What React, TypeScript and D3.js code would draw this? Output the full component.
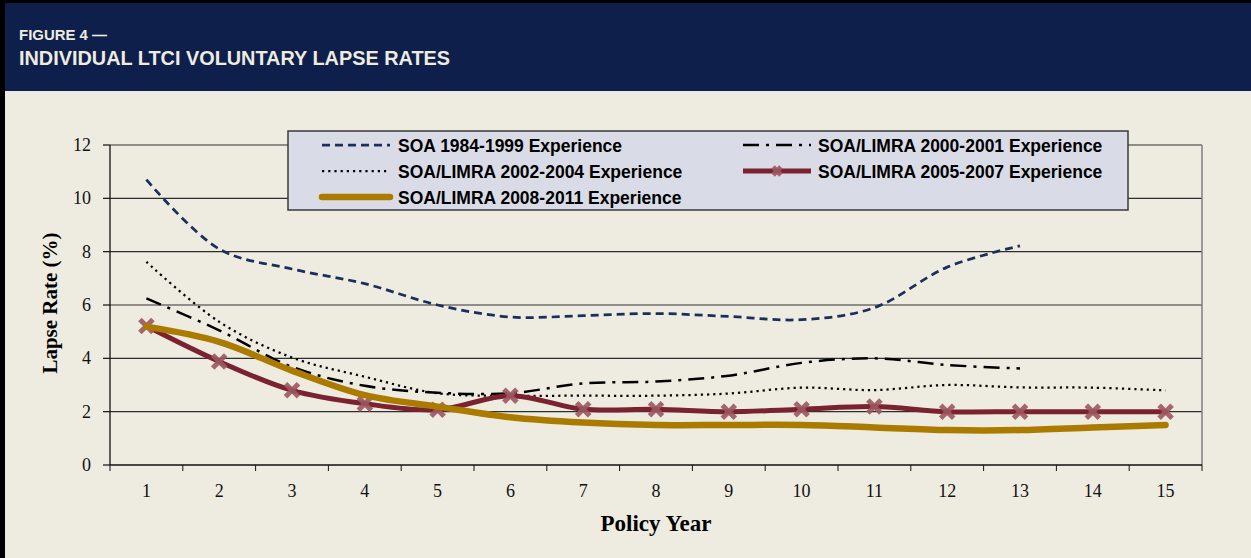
import React from 'react';
import * as d3 from 'd3';

const years = [1, 2, 3, 4, 5, 6, 7, 8, 9, 10, 11, 12, 13, 14, 15];
const yTicks = [0, 2, 4, 6, 8, 10, 12];

// one value per policy year; missing years are left out
const soa8499 = [10.7, 8.1, 7.35, 6.8, 6.0, 5.55, 5.6, 5.68, 5.57, 5.45, 5.9, 7.42, 8.22];
const limra0001 = [6.25, 5.05, 3.68, 2.97, 2.71, 2.69, 3.06, 3.13, 3.35, 3.83, 4.0, 3.75, 3.62];
const limra0204 = [7.62, 5.37, 4.03, 3.31, 2.69, 2.6, 2.6, 2.6, 2.68, 2.9, 2.81, 3.0, 2.91, 2.9, 2.8];
const limra0507 = [5.21, 3.88, 2.8, 2.3, 2.07, 2.6, 2.09, 2.09, 2.0, 2.09, 2.19, 2.0, 2.0, 2.0, 2.0];
const limra0811 = [5.19, 4.62, 3.54, 2.62, 2.19, 1.79, 1.59, 1.5, 1.5, 1.5, 1.41, 1.31, 1.31, 1.41, 1.5];

const seriesNames = [
  'SOA 1984-1999 Experience',
  'SOA/LIMRA 2000-2001 Experience',
  'SOA/LIMRA 2002-2004 Experience',
  'SOA/LIMRA 2005-2007 Experience',
  'SOA/LIMRA 2008-2011 Experience',
];

const W = 1251;
const H = 558;
const plot = { left: 110, right: 1202, top: 145, bottom: 465 };

const styles = [
  { color: '#1b2f5c', width: 2.75, dash: '8,5' },
  { color: '#000000', width: 2.5, dash: '16,7,3,7' },
  { color: '#000000', width: 2.25, dash: '2.2,4' },
  { color: '#7b2230', width: 5, dash: null },
  { color: '#ab7b00', width: 6.5, dash: null },
];

const allSeries = [soa8499, limra0001, limra0204, limra0507, limra0811];

const Cross = ({ x, y, s = 6.5 }: { x: number; y: number; s?: number }) => (
  <path
    d={`M${x - s},${y - s}L${x + s},${y + s}M${x - s},${y + s}L${x + s},${y - s}`}
    stroke="#9c5661"
    strokeOpacity={0.9}
    strokeWidth={5}
  />
);

export default function App() {
  const x = d3.scaleBand<number>().domain(years).range([plot.left, plot.right]).padding(0);
  const y = d3.scaleLinear().domain([0, 12]).range([plot.bottom, plot.top]);
  const cx = (d: number) => (x(d) as number) + x.bandwidth() / 2;

  const line = d3
    .line<number>()
    .x((_, i) => cx(years[i]))
    .y((v) => y(v))
    .curve(d3.curveCatmullRom.alpha(0.5));

  const legendItems = [
    { i: 0, lx: 322, ly: 145 },
    { i: 1, lx: 743, ly: 145 },
    { i: 2, lx: 322, ly: 171 },
    { i: 3, lx: 743, ly: 171 },
    { i: 4, lx: 322, ly: 197 },
  ];

  return (
    <div style={{ position: 'fixed', left: 0, top: 0 }}>
      <svg width={W} height={H} style={{ display: 'block' }}>
        <rect x={0} y={0} width={W} height={H} fill="#eeece1" />
        <rect x={0} y={0} width={W} height={91} fill="#0d1f4a" />
        <rect x={0} y={0} width={W} height={3} fill="#000" />
        <rect x={0} y={0} width={5} height={H} fill="#000" />
        <text
          x={19}
          y={39.5}
          fill="#eeece1"
          fontFamily="'Liberation Sans Narrow', 'Arial Narrow', 'Liberation Sans', sans-serif"
          fontWeight="bold"
          fontSize={15}
          textLength={88}
          lengthAdjust="spacingAndGlyphs"
        >
          FIGURE 4 —
        </text>
        <text
          x={19}
          y={65}
          fill="#eeece1"
          fontFamily="'Liberation Sans Narrow', 'Arial Narrow', 'Liberation Sans', sans-serif"
          fontWeight="bold"
          fontSize={21}
          textLength={431}
          lengthAdjust="spacingAndGlyphs"
        >
          INDIVIDUAL LTCI VOLUNTARY LAPSE RATES
        </text>

        {/* gridlines */}
        {yTicks.slice(1).map((t) => (
          <line key={t} x1={plot.left} x2={plot.right} y1={y(t)} y2={y(t)} stroke="#2e2e2e" strokeWidth={1.2} />
        ))}
        <line x1={plot.right} x2={plot.right} y1={plot.top} y2={plot.bottom} stroke="#7f7f7f" strokeWidth={1.5} />

        {/* axes */}
        <line x1={plot.left} x2={plot.left} y1={plot.top} y2={plot.bottom} stroke="#111" strokeWidth={1.3} />
        <line x1={plot.left} x2={plot.right} y1={plot.bottom} y2={plot.bottom} stroke="#111" strokeWidth={1.5} />
        {yTicks.map((t) => (
          <g key={t}>
            <line x1={plot.left - 7} x2={plot.left} y1={y(t)} y2={y(t)} stroke="#111" strokeWidth={1.2} />
            <text
              x={91}
              y={y(t) + 6}
              textAnchor="end"
              fontFamily="'Liberation Serif', 'Times New Roman', serif"
              fontSize={18}
              fill="#111"
            >
              {t}
            </text>
          </g>
        ))}
        {years.map((d) => (
          <g key={d}>
            <line x1={x(d)} x2={x(d)} y1={plot.bottom} y2={plot.bottom + 6} stroke="#111" strokeWidth={1} />
            <text
              x={cx(d)}
              y={497}
              textAnchor="middle"
              fontFamily="'Liberation Serif', 'Times New Roman', serif"
              fontSize={18}
              fill="#111"
            >
              {d}
            </text>
          </g>
        ))}
        <line x1={plot.right} x2={plot.right} y1={plot.bottom} y2={plot.bottom + 6} stroke="#111" strokeWidth={1} />

        <text
          x={656}
          y={531}
          textAnchor="middle"
          fontFamily="'Liberation Serif', 'Times New Roman', serif"
          fontWeight="bold"
          fontSize={23}
          fill="#000"
        >
          Policy Year
        </text>
        <text
          transform="translate(57,303) rotate(-90)"
          textAnchor="middle"
          fontFamily="'Liberation Serif', 'Times New Roman', serif"
          fontWeight="bold"
          fontSize={21}
          fill="#000"
        >
          Lapse Rate (%)
        </text>

        {/* series */}
        {allSeries.map((vals, si) => (
          <g key={si}>
            <path
              d={line(vals) || ''}
              fill="none"
              stroke={styles[si].color}
              strokeWidth={styles[si].width}
              strokeDasharray={styles[si].dash || undefined}
              strokeLinecap={si >= 3 ? 'round' : 'butt'}
              strokeLinejoin="round"
            />
            {si === 3 && vals.map((v, i) => <Cross key={i} x={cx(years[i])} y={y(v)} />)}
          </g>
        ))}

        {/* legend */}
        <rect x={288} y={131} width={840} height={79} fill="#d9dce6" stroke="#3a3a3a" strokeWidth={1.5} />
        {legendItems.map(({ i, lx, ly }) => (
          <g key={i}>
            <line
              x1={lx}
              x2={lx + 68}
              y1={ly}
              y2={ly}
              stroke={styles[i].color}
              strokeWidth={styles[i].width}
              strokeDasharray={styles[i].dash || undefined}
              strokeLinecap={i === 4 ? 'round' : 'butt'}
            />
            {i === 3 && <Cross x={lx + 34} y={ly} s={4} />}
            <text
              x={lx + (i % 2 === 0 ? 76 : 75)}
              y={ly + 6.5}
              fontFamily="'Liberation Sans', Arial, sans-serif"
              fontWeight="bold"
              fontSize={17.5}
              fill="#000"
            >
              {seriesNames[i]}
            </text>
          </g>
        ))}
      </svg>
    </div>
  );
}
